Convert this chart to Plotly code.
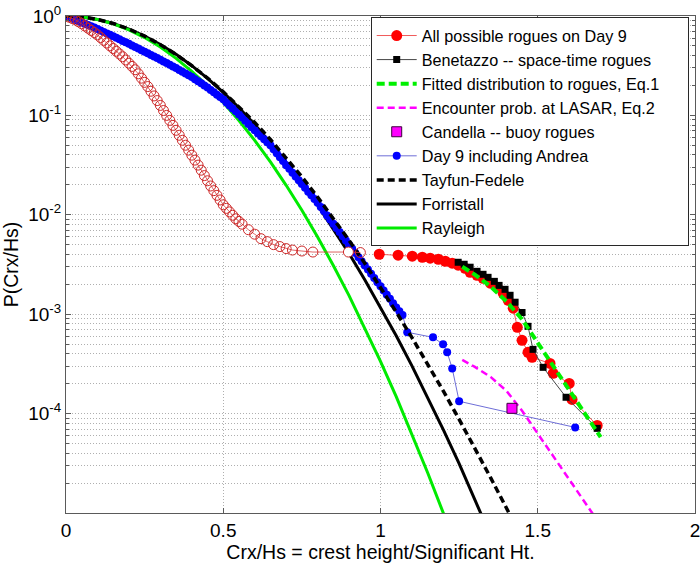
import plotly.graph_objects as go

# ---------------- data ----------------
# Rayleigh
x_ray = [0.00, 0.05, 0.10, 0.15, 0.20, 0.25, 0.30, 0.35, 0.40, 0.45, 0.50, 0.55, 0.60,
         0.65, 0.70, 0.75, 0.80, 0.85, 0.90, 0.95, 1.00, 1.05, 1.10, 1.15, 1.20, 1.25]
p_ray = [1.0, 0.980, 0.923, 0.835, 0.726, 0.607, 0.487, 0.375, 0.278, 0.198, 0.135, 0.0889,
         0.0561, 0.0340, 0.0198, 0.0111, 0.00598, 0.00309, 0.00154, 7.32e-4, 3.35e-4,
         1.48e-4, 6.26e-5, 2.54e-5, 9.94e-6, 3.73e-6]

# Forristall
x_for = [0.00, 0.05, 0.10, 0.15, 0.20, 0.25, 0.30, 0.35, 0.40, 0.45, 0.50, 0.55, 0.60, 0.65,
         0.70, 0.75, 0.80, 0.85, 0.90, 0.95, 1.00, 1.05, 1.10, 1.15, 1.20, 1.25, 1.30, 1.35]
p_for = [1.0, 0.9794, 0.9238, 0.8409, 0.7394, 0.6285, 0.5167, 0.4111, 0.3165, 0.2360, 0.1704,
         0.1192, 0.0808, 0.0531, 0.0338, 0.02085, 0.01248, 0.00724, 0.00408, 0.002225,
         0.001179, 6.06e-4, 3.02e-4, 1.46e-4, 6.86e-5, 3.13e-5, 1.38e-5, 5.9e-6]

# Tayfun-Fedele
x_tf = [0.00, 0.05, 0.10, 0.15, 0.20, 0.25, 0.30, 0.35, 0.40, 0.45, 0.50, 0.55, 0.60, 0.65,
        0.70, 0.75, 0.80, 0.85, 0.90, 0.95, 1.00, 1.05, 1.10, 1.15, 1.20, 1.25, 1.30, 1.35,
        1.40, 1.45]
p_tf = [1.0, 0.9805, 0.9252, 0.8415, 0.7388, 0.6271, 0.5151, 0.4100, 0.3166, 0.2375, 0.1731,
        0.1228, 0.0849, 0.0572, 0.0376, 0.0241, 0.01509, 0.00925, 0.00554, 0.00325,
        0.001869, 0.001052, 5.81e-4, 3.15e-4, 1.68e-4, 8.76e-5, 4.50e-5, 2.27e-5,
        1.13e-5, 5.5e-6]

# all waves (open red circles)
x_all = [0.00, 0.01, 0.02, 0.03, 0.04, 0.05, 0.06, 0.07, 0.08, 0.09,
         0.10, 0.11, 0.12, 0.13, 0.14, 0.15, 0.16, 0.17, 0.18, 0.19,
         0.20, 0.21, 0.22, 0.23, 0.24, 0.25, 0.26, 0.27, 0.28, 0.29,
         0.30, 0.31, 0.32, 0.33, 0.34, 0.35, 0.36, 0.37, 0.38, 0.39,
         0.40, 0.41, 0.42, 0.43, 0.44, 0.45, 0.46, 0.47, 0.48, 0.49,
         0.50, 0.51, 0.52, 0.53, 0.54, 0.55, 0.56, 0.58, 0.60, 0.62,
         0.64, 0.66, 0.68, 0.70, 0.72, 0.75, 0.785, 0.898, 0.936]
p_all = [1.0, 0.973, 0.944, 0.912, 0.875, 0.836, 0.794, 0.755, 0.716, 0.681,
         0.646, 0.607, 0.569, 0.535, 0.501, 0.471, 0.442, 0.415, 0.389, 0.361,
         0.335, 0.311, 0.288, 0.262, 0.237, 0.215, 0.195, 0.175, 0.157, 0.141,
         0.126, 0.112, 0.100, 0.0891, 0.0794, 0.0708, 0.0631, 0.0562, 0.0501, 0.0447,
         0.0398, 0.0355, 0.0316, 0.0281, 0.0248, 0.0220, 0.0195, 0.0175, 0.0157, 0.0141,
         0.0126, 0.0116, 0.0107, 0.00989, 0.00912, 0.00857, 0.00804, 0.00708, 0.00638, 0.00575,
         0.00537, 0.00501, 0.00479, 0.00457, 0.00442, 0.00432, 0.00422, 0.00422, 0.00417]

# All possible rogues on Day 9
x_rog = [0.996, 1.056, 1.101, 1.133, 1.158, 1.184, 1.206, 1.228, 1.247, 1.269, 1.285, 1.307,
         1.326, 1.349, 1.371, 1.390, 1.406, 1.422, 1.435, 1.450, 1.469, 1.482, 1.539, 1.549,
         1.600, 1.609, 1.689]
p_rog = [4.01e-3, 3.92e-3, 3.83e-3, 3.74e-3, 3.66e-3, 3.57e-3, 3.41e-3, 3.26e-3, 3.11e-3,
         2.90e-3, 2.64e-3, 2.46e-3, 2.30e-3, 2.05e-3, 1.87e-3, 1.62e-3, 1.38e-3, 1.15e-3,
         7.38e-4, 5.46e-4, 4.13e-4, 3.68e-4, 3.20e-4, 2.54e-4, 2.01e-4, 1.39e-4, 7.60e-5]

# Benetazzo -- space-time rogues
x_ben = [1.247, 1.266, 1.285, 1.307, 1.326, 1.342, 1.362, 1.377, 1.396, 1.412, 1.428, 1.450,
         1.469, 1.485, 1.517, 1.590, 1.689]
p_ben = [3.33e-3, 3.18e-3, 2.97e-3, 2.70e-3, 2.52e-3, 2.35e-3, 2.14e-3, 1.95e-3, 1.78e-3,
         1.55e-3, 1.32e-3, 1.04e-3, 7.55e-4, 4.43e-4, 2.92e-4, 1.46e-4, 7.10e-5]

# Fitted distribution to rogues, Eq.1
x_fit = [1.26, 1.30, 1.35, 1.40, 1.45, 1.50, 1.55, 1.60, 1.65, 1.70]
p_fit = [3.0e-3, 2.5e-3, 1.9e-3, 1.35e-3, 8.9e-4, 5.2e-4, 3.0e-4, 1.74e-4, 1.0e-4, 5.8e-5]

# Encounter prob. at LASAR, Eq.2
x_enc = [1.26, 1.30, 1.35, 1.40, 1.45, 1.50, 1.55, 1.60, 1.65, 1.68]
p_enc = [3.47e-4, 2.95e-4, 2.34e-4, 1.70e-4, 1.07e-4, 6.3e-5, 3.7e-5, 2.2e-5, 1.29e-5, 9.3e-6]

# Candella -- buoy rogues
x_can = [1.418]
p_can = [1.13e-4]

# Day 9 including Andrea
x_day = [0.00, 0.01, 0.02, 0.03, 0.04, 0.05, 0.06, 0.07, 0.08, 0.09, 0.10,
         0.11, 0.12, 0.13, 0.14, 0.15, 0.16, 0.17, 0.18, 0.19, 0.20,
         0.21, 0.22, 0.23, 0.24, 0.25, 0.26, 0.27, 0.28, 0.29, 0.30,
         0.31, 0.32, 0.33, 0.34, 0.35, 0.36, 0.37, 0.38, 0.39, 0.40,
         0.41, 0.42, 0.43, 0.44, 0.45, 0.46, 0.47, 0.48, 0.49, 0.50,
         0.51, 0.52, 0.53, 0.54, 0.55, 0.56, 0.57, 0.58, 0.59, 0.60,
         0.61, 0.62, 0.63, 0.64, 0.65, 0.66, 0.67, 0.68, 0.69, 0.70,
         0.71, 0.72, 0.73, 0.74, 0.75, 0.76, 0.77, 0.78, 0.79, 0.80,
         0.81, 0.82, 0.83, 0.84, 0.85, 0.86, 0.87, 0.88, 0.89, 0.90,
         0.91, 0.92, 0.93, 0.94, 0.95, 0.96, 0.97, 0.98, 0.99, 1.00,
         1.01, 1.02, 1.03, 1.04, 1.05, 1.06, 1.07,
         1.085, 1.167, 1.199, 1.212, 1.228, 1.250, 1.619]
p_day = [1.000, 0.970, 0.942, 0.914, 0.887, 0.861, 0.836, 0.811, 0.787, 0.764, 0.741,
         0.716, 0.692, 0.668, 0.646, 0.624, 0.603, 0.582, 0.562, 0.543, 0.525,
         0.506, 0.488, 0.470, 0.453, 0.437, 0.421, 0.406, 0.391, 0.377, 0.363,
         0.349, 0.336, 0.323, 0.310, 0.299, 0.286, 0.275, 0.264, 0.253, 0.243,
         0.231, 0.220, 0.210, 0.200, 0.191, 0.180, 0.171, 0.161, 0.153, 0.145,
         0.135, 0.126, 0.117, 0.110, 0.102, 0.0951, 0.0883, 0.0820, 0.0762, 0.0708,
         0.0661, 0.0617, 0.0575, 0.0537, 0.0501, 0.0457, 0.0417, 0.0380, 0.0347, 0.0316,
         0.0290, 0.0265, 0.0243, 0.0223, 0.0204, 0.0187, 0.0171, 0.0157, 0.0144, 0.0132,
         0.0120, 0.0109, 0.00986, 0.00895, 0.00813, 0.00738, 0.00670, 0.00608, 0.00552, 0.00501,
         0.00455, 0.00413, 0.00375, 0.00340, 0.00309, 0.00281, 0.00255, 0.00231, 0.00210, 0.00191,
         0.00173, 0.00157, 0.00143, 0.00129, 0.00117, 0.00107, 0.00098,
         6.58e-4, 5.85e-4, 4.98e-4, 4.13e-4, 2.85e-4, 1.33e-4, 7.26e-5]

# axis ticks
x_ticks = [0, 0.5, 1, 1.5, 2]
x_ticktext = ["0", "0.5", "1", "1.5", "2"]
y_ticks = [1e-4, 1e-3, 1e-2, 1e-1, 1]
y_ticktext = ["10<sup>-4</sup>", "10<sup>-3</sup>", "10<sup>-2</sup>", "10<sup>-1</sup>", "10<sup>0</sup>"]

# ---------------- figure ----------------
FONT = "Liberation Sans, Arial, sans-serif"
GRID = "rgb(175,175,175)"
AXC = "rgb(90,90,90)"
PAD = "\u00a0" * 5  # widens the legend box to the reference width

fig = go.Figure()

fig.add_trace(go.Scatter(x=x_for, y=p_for, mode="lines", name="Forristall",
                         line=dict(color="black", width=3), legendrank=8))
fig.add_trace(go.Scatter(x=x_ray, y=p_ray, mode="lines", name="Rayleigh",
                         line=dict(color="rgb(0,235,0)", width=3), legendrank=9))
fig.add_trace(go.Scatter(x=x_day, y=p_day, mode="lines+markers", name="Day 9 including Andrea",
                         line=dict(color="rgb(110,110,215)", width=1),
                         marker=dict(color="rgb(0,0,255)", size=8), legendrank=6))
fig.add_trace(go.Scatter(x=x_tf, y=p_tf, mode="lines", name="Tayfun-Fedele",
                         line=dict(color="black", width=3.5, dash="7px,4px"), legendrank=7))

fill_all = ["rgba(0,0,0,0)"] * len(x_all)
fill_all[x_all.index(0.898)] = "white"
fig.add_trace(go.Scatter(x=x_all, y=p_all, mode="lines+markers", showlegend=False,
                         line=dict(color="rgb(215,60,60)", width=0.8),
                         marker=dict(symbol="circle", size=10, color=fill_all,
                                     line=dict(color="rgb(205,40,40)", width=1))))
fig.add_trace(go.Scatter(x=x_rog, y=p_rog, mode="lines+markers", name="All possible rogues on Day 9",
                         line=dict(color="rgb(240,90,90)", width=1),
                         marker=dict(color="rgb(255,0,0)", size=11), legendrank=1))
fig.add_trace(go.Scatter(x=x_ben, y=p_ben, mode="lines+markers", name="Benetazzo -- space-time rogues",
                         line=dict(color="rgb(70,70,70)", width=1),
                         marker=dict(symbol="square", color="black", size=7), legendrank=2))
fig.add_trace(go.Scatter(x=x_fit, y=p_fit, mode="lines", name="Fitted distribution to rogues, Eq.1" + PAD,
                         line=dict(color="rgb(0,240,0)", width=4, dash="8px,4px"), legendrank=3))
fig.add_trace(go.Scatter(x=x_enc, y=p_enc, mode="lines", name="Encounter prob. at LASAR, Eq.2",
                         line=dict(color="rgb(255,0,255)", width=2.5, dash="7px,4px"), legendrank=4))
fig.add_trace(go.Scatter(x=x_can, y=p_can, mode="markers", name="Candella -- buoy rogues",
                         marker=dict(symbol="square", color="rgb(255,0,255)", size=10,
                                     line=dict(color="rgb(60,0,60)", width=1)), legendrank=5))

minor_y = [m * 10.0 ** e for e in range(-5, 0) for m in range(2, 10)]

fig.update_layout(
    width=700, height=563,
    margin=dict(l=66, r=5, t=16, b=50, autoexpand=False),
    paper_bgcolor="white", plot_bgcolor="white",
    font=dict(family=FONT, color="black"),
    showlegend=True,
    legend=dict(x=0.99, y=0.997, xanchor="right", yanchor="top",
                bgcolor="white", bordercolor="rgb(40,40,40)", borderwidth=1,
                font=dict(size=16.2, family=FONT, color="black"),
                itemwidth=40, tracegroupgap=0),
    xaxis=dict(range=[0, 2], tickmode="array", tickvals=x_ticks, ticktext=x_ticktext,
               automargin=False, ticklabeloverflow="allow",
               showgrid=True, gridcolor=GRID, griddash="1px,2px", gridwidth=1,
               zeroline=False, showline=True, linecolor=AXC, linewidth=1, mirror="ticks",
               ticks="inside", ticklen=5, tickcolor=AXC,
               tickfont=dict(size=19, family=FONT),
               title=dict(text="Crx/Hs = crest height/Significant Ht.",
                          font=dict(size=19.5, family=FONT), standoff=11)),
    yaxis=dict(type="log", range=[-5, 0], tickmode="array", tickvals=y_ticks, ticktext=y_ticktext,
               automargin=False, ticklabeloverflow="allow",
               showgrid=True, gridcolor=GRID, griddash="1px,2px", gridwidth=1,
               zeroline=False, showline=True, linecolor=AXC, linewidth=1, mirror="ticks",
               ticks="inside", ticklen=5, tickcolor=AXC,
               tickfont=dict(size=19, family=FONT),
               minor=dict(tickmode="array", tickvals=minor_y, ticks="inside", ticklen=3,
                          tickcolor=AXC, showgrid=True, gridcolor=GRID, griddash="1px,2px"),
               title=dict(text="P(Crx/Hs)", font=dict(size=19.5, family=FONT), standoff=4)),
)

fig.write_html("out.html", config={"displayModeBar": False},
               post_script="document.body.style.margin='0px';")
